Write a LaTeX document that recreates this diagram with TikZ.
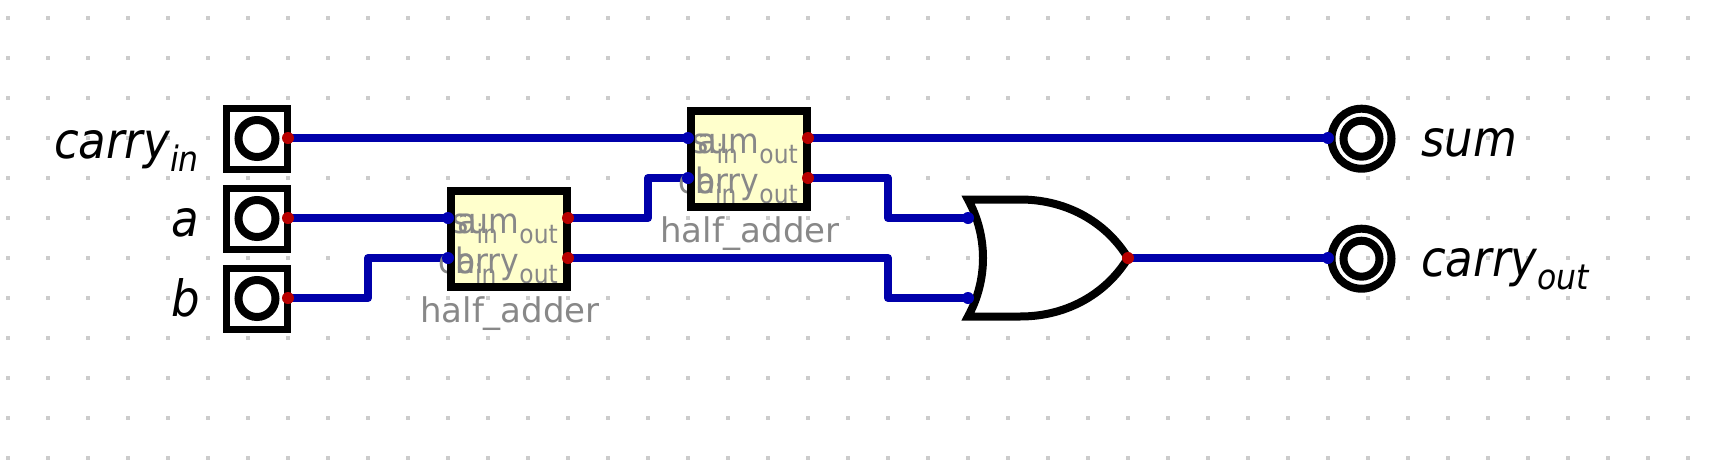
\documentclass[tikz,border=0pt]{standalone}
\usepackage{fontspec}
\setmainfont{DejaVu Sans}
\newfontfamily\stretchfont[FakeStretch=0.9]{DejaVu Sans}
\usetikzlibrary{backgrounds}
\pgfdeclarelayer{gridlayer}
\pgfdeclarelayer{wirelayer}
\pgfsetlayers{gridlayer,wirelayer,main}
\definecolor{wireblue}{HTML}{0000AA}
\definecolor{portred}{HTML}{B80000}
\definecolor{portblue}{HTML}{0000B4}
\definecolor{boxyellow}{HTML}{FFFFCC}
\definecolor{labelgray}{HTML}{888888}
\definecolor{griddot}{HTML}{CCCCCC}
\tikzset{
  x=1pt,y=-1pt,
  wire/.style={draw=wireblue,line width=8pt,line join=round,line cap=butt},
  inport/.style={circle,fill=portblue,inner sep=0pt,minimum size=12pt},
  outport/.style={circle,fill=portred,inner sep=0pt,minimum size=12pt},
  inbox/.style={draw=black,line width=7.5pt,minimum width=61pt,minimum height=61pt,inner sep=0pt,fill=white},
  incircle/.style={circle,draw=black,line width=8pt,minimum size=37pt,inner sep=0pt},
  outring/.style={circle,draw=black,line width=8pt,minimum size=60pt,inner sep=0pt},
  outcore/.style={circle,draw=black,line width=8pt,minimum size=36pt,inner sep=0pt},
  habox/.style={fill=boxyellow,minimum width=116pt,minimum height=96pt,inner sep=0pt},
  haborder/.style={draw=black,line width=8pt},
  hatext/.style={text=labelgray,inner sep=0pt,font=\stretchfont\fontsize{35}{38}\selectfont},
  hatitle/.style={text=labelgray,inner sep=0pt,font=\fontsize{34}{38}\selectfont,anchor=base},
  iolabel/.style={text=black,inner sep=0pt,font=\stretchfont\fontsize{50}{54}\selectfont\itshape,anchor=base},
  gate/.style={draw=black,line width=8pt,line join=miter,fill=white},
}
\newcommand{\hasub}[1]{\raisebox{-10pt}{\fontsize{26}{28}\selectfont #1}}
\newcommand{\iosub}[1]{\raisebox{-13pt}{\fontsize{35}{38}\selectfont\itshape #1}}
\begin{document}
\begin{tikzpicture}
\useasboundingbox (0,0) rectangle (1714,472);
\begin{pgfonlayer}{gridlayer}
  \fill[white] (0,0) rectangle (1714,472);
  \foreach \gy in {18,58,...,458}
    \foreach \gx in {8,48,...,1688}
      \fill[griddot] (\gx-2,\gy-2) rectangle (\gx+2,\gy+2);
\end{pgfonlayer}

% input terminals
\node[inbox] (bc) at (257,138.8) {};
\node[incircle] (cc) at (257,138.5) {};
\node[inbox] (ba) at (257,218.8) {};
\node[incircle] (ca) at (257,218.5) {};
\node[inbox] (bb) at (257,298.8) {};
\node[incircle] (cb) at (257,298.5) {};
\node[iolabel,anchor=base east] (lc) at (199,158) {carry\iosub{in}};
\node[iolabel,anchor=base east] (la) at (199,236) {a};
\node[iolabel,anchor=base east] (lb) at (200,316) {b};

% half adders
\node[habox] (ha1) at (509,239) {};
\node[hatext,anchor=base west] (ha1a) at (457,233) {a\hasub{in}};
\node[hatext,anchor=base east] (ha1s) at (558,233) {sum\hasub{out}};
\node[hatext,anchor=base west] (ha1b) at (455,273) {b\hasub{in}};
\node[hatext,anchor=base east] (ha1k) at (558,273) {carry\hasub{out}};
\draw[haborder] (ha1.north west) rectangle (ha1.south east);
\node[hatitle] (ha1t) at (510,322) {half\_adder};

\node[habox] (ha2) at (749,159) {};
\node[hatext,anchor=base west] (ha2a) at (697,153) {a\hasub{in}};
\node[hatext,anchor=base east] (ha2s) at (798,153) {sum\hasub{out}};
\node[hatext,anchor=base west] (ha2b) at (695,193) {b\hasub{in}};
\node[hatext,anchor=base east] (ha2k) at (798,193) {carry\hasub{out}};
\draw[haborder] (ha2.north west) rectangle (ha2.south east);
\node[hatitle] (ha2t) at (750,242) {half\_adder};

% OR gate
\draw[gate] (968,199.5) -- (1020,199.5)
   .. controls (1070,199.5) and (1108,225) .. (1128,258)
   .. controls (1108,291) and (1070,316.5) .. (1020,316.5)
   -- (968,316.5)
   .. controls (988,280) and (988,236) .. (968,199.5) -- cycle;

% output terminals
\node[outring] (rs) at (1361.5,138.7) {};
\node[outcore] (os) at (1361.5,138.7) {};
\node[outring] (rk) at (1361.5,258.7) {};
\node[outcore] (ok) at (1361.5,258.7) {};
\node[iolabel,anchor=base west] (ls) at (1421,156) {sum};
\node[iolabel,anchor=base west] (lk) at (1421,276) {carry\iosub{out}};

% ports
\node[outport] (pc) at (288,138) {};
\node[outport] (pa) at (288,218) {};
\node[outport] (pb) at (288,298) {};
\node[inport] (h1a) at (448,218) {};
\node[inport] (h1b) at (448,258) {};
\node[outport] (h1s) at (568,218) {};
\node[outport] (h1k) at (568,258) {};
\node[inport] (h2a) at (688,138) {};
\node[inport] (h2b) at (688,178) {};
\node[outport] (h2s) at (808,138) {};
\node[outport] (h2k) at (808,178) {};
\node[inport] (g1) at (968,218) {};
\node[inport] (g2) at (968,298) {};
\node[outport] (gout) at (1128,258) {};
\node[inport] (osum) at (1328,138) {};
\node[inport] (okey) at (1328,258) {};

\begin{pgfonlayer}{wirelayer}
  \draw[wire] (pc.center) -- (h2a.center);
  \draw[wire] (pa.center) -- (h1a.center);
  \draw[wire] (pb.center) -- (368,298) -- (368,258) -- (h1b.center);
  \draw[wire] (h1s.center) -- (648,218) -- (648,178) -- (h2b.center);
  \draw[wire] (h1k.center) -- (888,258) -- (888,298) -- (g2.center);
  \draw[wire] (h2k.center) -- (888,178) -- (888,218) -- (g1.center);
  \draw[wire] (h2s.center) -- (osum.center);
  \draw[wire] (gout.center) -- (okey.center);
\end{pgfonlayer}
\end{tikzpicture}
\end{document}
